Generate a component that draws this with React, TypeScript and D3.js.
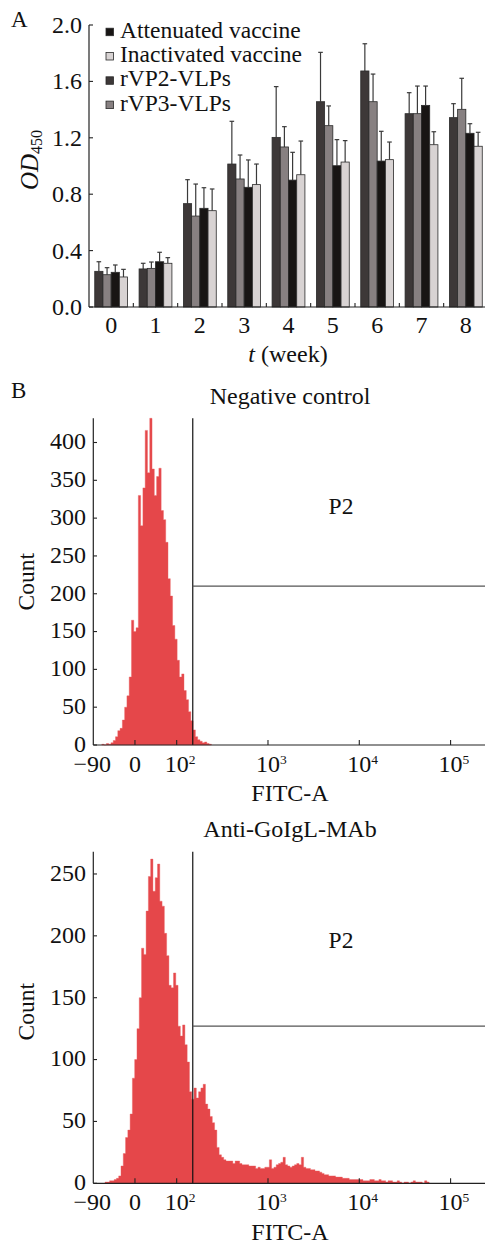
import * as d3 from "d3";

const font = "'Liberation Serif', 'Times New Roman', serif";

// ---- panel A : OD450 by week ----
const weeks = ["0", "1", "2", "3", "4", "5", "6", "7", "8"];
const series = ["rVP2-VLPs", "rVP3-VLPs", "Attenuated vaccine", "Inactivated vaccine"];
const legendItems = ["Attenuated vaccine", "Inactivated vaccine", "rVP2-VLPs", "rVP3-VLPs"];

const rvp2Mean = [0.253, 0.27, 0.733, 1.014, 1.203, 1.456, 1.674, 1.371, 1.343];
const rvp2Sd = [0.068, 0.04, 0.17, 0.303, 0.36, 0.35, 0.193, 0.149, 0.099];
const rvp3Mean = [0.229, 0.274, 0.645, 0.908, 1.135, 1.286, 1.456, 1.371, 1.402];
const rvp3Sd = [0.05, 0.045, 0.227, 0.17, 0.144, 0.14, 0.196, 0.196, 0.22];
const attMean = [0.246, 0.321, 0.7, 0.849, 0.9, 1.002, 1.035, 1.43, 1.232];
const attSd = [0.052, 0.067, 0.146, 0.194, 0.197, 0.185, 0.211, 0.137, 0.068];
const inactMean = [0.213, 0.31, 0.683, 0.868, 0.938, 1.028, 1.045, 1.151, 1.14];
const inactSd = [0.054, 0.04, 0.154, 0.146, 0.239, 0.152, 0.125, 0.092, 0.099];

const odTicks = [0, 0.4, 0.8, 1.2, 1.6, 2.0];

const seriesData: Record<string, { mean: number[]; sd: number[] }> = {
  "rVP2-VLPs": { mean: rvp2Mean, sd: rvp2Sd },
  "rVP3-VLPs": { mean: rvp3Mean, sd: rvp3Sd },
  "Attenuated vaccine": { mean: attMean, sd: attSd },
  "Inactivated vaccine": { mean: inactMean, sd: inactSd },
};

const colors: Record<string, string> = {
  "rVP2-VLPs": "#3d3838",
  "rVP3-VLPs": "#878081",
  "Attenuated vaccine": "#181514",
  "Inactivated vaccine": "#d8d3d3",
};

// ---- panel B : flow cytometry histograms (bins in logicle display units) ----
const binWidth = 0.025;
const negStart = 1.18;
const negCounts = [
  1, 0, 2, 1, 3, 6, 11, 19, 22, 33, 50, 65, 90, 165, 150, 155, 330, 290, 340, 416,
  360, 432, 365, 330, 355, 366, 310, 298, 268, 220, 197, 158, 140, 112, 90, 94, 72, 60,
  44, 32, 20, 11, 7, 5, 3, 4, 2, 1,
];
const antiStart = 1.215;
const antiCounts = [
  1, 1, 2, 2, 3, 4, 6, 14, 24, 37, 43, 56, 85, 100, 125, 150, 190, 185, 220, 248,
  262, 236, 247, 258, 228, 224, 202, 184, 160, 158, 170, 160, 127, 119, 128, 112, 98, 74,
  68, 77, 69, 74, 77, 80, 64, 60, 54, 49, 43, 29, 23, 21, 19, 18, 18, 18, 16, 18,
  18, 16, 15, 15, 15, 14, 14, 14, 12, 13, 12, 12, 13, 13, 19, 12, 13, 15, 16, 17,
  21, 15, 14, 13, 14, 15, 16, 15, 21, 13, 12, 12, 11, 11, 10, 10, 9, 8, 7, 7,
  6, 6, 6, 5, 5, 5, 4, 4, 4, 3, 3, 3, 3, 3, 3, 2, 2, 2, 3, 3,
  2, 2, 3, 2, 2, 1, 2, 2, 1, 1, 2, 1, 0, 1, 1, 0, 1, 2, 1, 1,
  1, 0, 2, 1,
];
const negTicks = [0, 50, 100, 150, 200, 250, 300, 350, 400];
const antiTicks = [0, 50, 100, 150, 200, 250];
const fitcTickValues = [-90, 0, 100, 1000, 10000, 100000];
const fitcTickBase = ["\u221290", "0", "10", "10", "10", "10"];
const fitcTickExp = ["", "", "2", "3", "4", "5"];
const fitcMax = 262143;
const gateFitc = 150;
const negGateCount = 210;
const antiGateCount = 127;

// biexponential-like display transform: linear near zero, log10 above 100
function toDisplay(v: number) {
  if (v >= 100) return Math.log10(v);
  if (v >= 0) return 1.543 + v * 0.00457;
  return 1.543 + v * 0.00507;
}

function BarPanel() {
  const x0 = d3.scaleBand().domain(weeks).range([89, 488]).paddingInner(0).paddingOuter(0);
  const x1 = d3
    .scaleBand()
    .domain(series)
    .range([0, x0.bandwidth()])
    .paddingInner(0)
    .paddingOuter(0.7);
  const y = d3.scaleLinear().domain([0, 2]).range([307, 25]);
  const bw = x1.bandwidth();

  return (
    <g>
      <text x={11} y={27} fontSize={23}>A</text>
      {/* bars */}
      {weeks.map((w, i) =>
        series.map((s) => {
          const m = seriesData[s].mean[i];
          const top = m + seriesData[s].sd[i];
          const bx = (x0(w) as number) + (x1(s) as number);
          const cx = bx + bw / 2;
          return (
            <g key={w + s}>
              <line x1={cx} x2={cx} y1={y(m)} y2={y(top)} stroke="#3a3a3a" strokeWidth={1.2} />
              <line x1={cx - 2.3} x2={cx + 2.3} y1={y(top)} y2={y(top)} stroke="#3a3a3a" strokeWidth={1.2} />
              <rect x={bx} y={y(m)} width={bw} height={y(0) - y(m)} fill={colors[s]} stroke="#2a2a2a" strokeWidth={0.8} />
            </g>
          );
        })
      )}
      {/* axes */}
      <line x1={89} x2={89} y1={y(2)} y2={y(0)} stroke="#222" strokeWidth={1.2} />
      <line x1={89} x2={488} y1={y(0)} y2={y(0)} stroke="#222" strokeWidth={1.2} />
      {odTicks.map((t) => (
        <g key={t}>
          <line x1={89} x2={93} y1={y(t)} y2={y(t)} stroke="#222" strokeWidth={1.1} />
          <text x={82} y={y(t)} dy="0.33em" textAnchor="end" fontSize={24}>
            {t.toFixed(1)}
          </text>
        </g>
      ))}
      {weeks.map((w, i) => (
        <g key={w}>
          {i > 0 && (
            <line x1={x0(w)} x2={x0(w)} y1={y(0)} y2={y(0) - 4} stroke="#222" strokeWidth={1.1} />
          )}
          <text x={(x0(w) as number) + x0.bandwidth() / 2} y={333} textAnchor="middle" fontSize={24}>
            {w}
          </text>
        </g>
      ))}
      <text x={288} y={362} textAnchor="middle" fontSize={24}>
        <tspan fontStyle="italic">t</tspan> (week)
      </text>
      <text transform="translate(38,160) rotate(-90)" textAnchor="middle" fontSize={25}>
        <tspan fontStyle="italic">OD</tspan>
        <tspan fontSize={16} dy={4}>450</tspan>
      </text>
      {/* legend */}
      {legendItems.map((s, i) => {
        const base = 37.7 + i * 24.3;
        return (
          <g key={s}>
            <rect x={106} y={base - 9.5} width={7.5} height={7.5} fill={colors[s]} stroke="#2a2a2a" strokeWidth={0.8} />
            <text x={120} y={base} fontSize={23.5}>{s}</text>
          </g>
        );
      })}
    </g>
  );
}

type HistProps = {
  counts: number[];
  start: number;
  yMax: number;
  yTicks: number[];
  gateCount: number;
  top: number;
  bottom: number;
  title: string;
  titleY: number;
  labelY: number;
  xLabelY: number;
  p2Y: number;
  countY: number;
};

function Histogram(p: HistProps) {
  const x = d3
    .scaleLinear()
    .domain([toDisplay(-90), toDisplay(fitcMax)])
    .range([93.3, 488.8]);
  const y = d3.scaleLinear().domain([0, p.yMax]).range([p.bottom, p.top]);

  const pts: [number, number][] = p.counts.map((c, i) => [p.start + i * binWidth, c]);
  pts.push([p.start + p.counts.length * binWidth, p.counts[p.counts.length - 1]]);
  const area = d3
    .area<[number, number]>()
    .x((d) => x(d[0]))
    .y0(p.bottom)
    .y1((d) => y(d[1]))
    .curve(d3.curveStepAfter);

  const gx = x(toDisplay(gateFitc));

  return (
    <g>
      <text x={290} y={p.titleY} textAnchor="middle" fontSize={24}>{p.title}</text>
      <path d={area(pts) as string} fill="#e5474a" stroke="#ec5d60" strokeWidth={0.4} />
      {/* gate */}
      <line x1={gx} x2={gx} y1={p.top} y2={p.bottom} stroke="#111" strokeWidth={1.2} />
      <line x1={gx} x2={490} y1={y(p.gateCount)} y2={y(p.gateCount)} stroke="#555" strokeWidth={1.3} />
      <text x={341} y={p.p2Y} textAnchor="middle" fontSize={23.5}>P2</text>
      {/* axes */}
      <line x1={93.3} x2={93.3} y1={p.top} y2={p.bottom} stroke="#222" strokeWidth={1.2} />
      <line x1={93.3} x2={490} y1={p.bottom} y2={p.bottom} stroke="#222" strokeWidth={1.2} />
      {p.yTicks.map((t) => (
        <g key={t}>
          <line x1={93.3} x2={97} y1={y(t)} y2={y(t)} stroke="#222" strokeWidth={1.1} />
          <text x={86} y={y(t) - 1} dy="0.33em" textAnchor="end" fontSize={24}>{t}</text>
        </g>
      ))}
      {fitcTickValues.map((v, i) => {
        const tx = x(toDisplay(v));
        return (
          <g key={v}>
            {i > 0 && <line x1={tx} x2={tx} y1={p.bottom} y2={p.bottom - 5} stroke="#222" strokeWidth={1.1} />}
            <text x={i === 0 ? tx - 1 : tx} y={p.labelY} textAnchor="middle" fontSize={24}>
              {fitcTickBase[i]}
            </text>
            {fitcTickExp[i] && (
              <text x={tx + 12} y={p.labelY - 8} fontSize={13.5}>{fitcTickExp[i]}</text>
            )}
          </g>
        );
      })}
      <text x={290} y={p.xLabelY} textAnchor="middle" fontSize={24}>FITC-A</text>
      <text transform={`translate(34,${p.countY}) rotate(-90)`} textAnchor="middle" fontSize={23.5}>
        Count
      </text>
    </g>
  );
}

function App() {
  return (
    <div style={{ position: "absolute", left: 0, top: 0 }}>
      <svg width={485} height={1245} style={{ display: "block", background: "#fff" }} fontFamily={font} fill="#111">
        <BarPanel />
        <text x={11} y={398} fontSize={23}>B</text>
        <Histogram
          counts={negCounts}
          start={negStart}
          yMax={432}
          yTicks={negTicks}
          gateCount={negGateCount}
          top={418.3}
          bottom={745}
          title="Negative control"
          titleY={404}
          labelY={771.5}
          xLabelY={801}
          p2Y={514}
          countY={581.7}
        />
        <Histogram
          counts={antiCounts}
          start={antiStart}
          yMax={268}
          yTicks={antiTicks}
          gateCount={antiGateCount}
          top={851.7}
          bottom={1183.3}
          title="Anti-GoIgL-MAb"
          titleY={837}
          labelY={1210}
          xLabelY={1240}
          p2Y={948}
          countY={1011.7}
        />
      </svg>
    </div>
  );
}

export default App;
